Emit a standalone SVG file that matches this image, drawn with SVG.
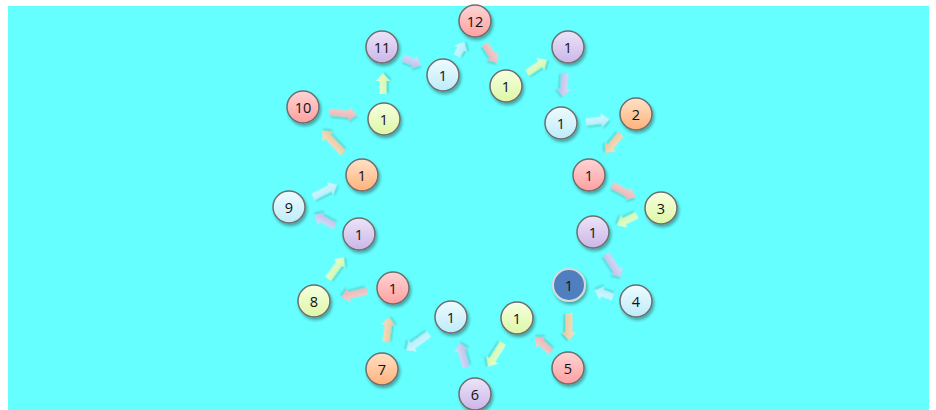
<svg xmlns="http://www.w3.org/2000/svg" width="936" height="410" viewBox="0 0 936 410">
<defs>
<linearGradient id="gR" x1="0" y1="0" x2="0" y2="1"><stop offset="0" stop-color="#FFD4D4"/><stop offset="1" stop-color="#FFA0A0"/></linearGradient>
<linearGradient id="gP" x1="0" y1="0" x2="0" y2="1"><stop offset="0" stop-color="#ECE4F8"/><stop offset="1" stop-color="#CBB6E8"/></linearGradient>
<linearGradient id="gB" x1="0" y1="0" x2="0" y2="1"><stop offset="0" stop-color="#EEFBFF"/><stop offset="1" stop-color="#BDEBFA"/></linearGradient>
<linearGradient id="gG" x1="0" y1="0" x2="0" y2="1"><stop offset="0" stop-color="#F7FFE0"/><stop offset="1" stop-color="#DDF7A6"/></linearGradient>
<linearGradient id="gO" x1="0" y1="0" x2="0" y2="1"><stop offset="0" stop-color="#FFE2C8"/><stop offset="1" stop-color="#FFB27A"/></linearGradient>
<linearGradient id="aR" x1="0" y1="0" x2="0" y2="1"><stop offset="0" stop-color="#FFD0D0"/><stop offset="1" stop-color="#FFA8A8"/></linearGradient>
<linearGradient id="aP" x1="0" y1="0" x2="0" y2="1"><stop offset="0" stop-color="#E6DCF6"/><stop offset="1" stop-color="#C9B6EA"/></linearGradient>
<linearGradient id="aB" x1="0" y1="0" x2="0" y2="1"><stop offset="0" stop-color="#E4F8FF"/><stop offset="1" stop-color="#B8EAFB"/></linearGradient>
<linearGradient id="aG" x1="0" y1="0" x2="0" y2="1"><stop offset="0" stop-color="#F4FFD2"/><stop offset="1" stop-color="#DAF7A0"/></linearGradient>
<linearGradient id="aO" x1="0" y1="0" x2="0" y2="1"><stop offset="0" stop-color="#FFE0C4"/><stop offset="1" stop-color="#FFBE8A"/></linearGradient>
<filter id="sh" x="-40%" y="-40%" width="180%" height="180%"><feDropShadow dx="1.5" dy="2.5" stdDeviation="1.8" flood-color="#000" flood-opacity="0.35"/></filter>
<filter id="ash" x="-40%" y="-60%" width="180%" height="220%"><feDropShadow dx="1" dy="2" stdDeviation="1.2" flood-color="#000" flood-opacity="0.2"/></filter>
</defs>
<style>
.n circle{stroke:#6E6E6E;stroke-width:1.5;filter:url(#sh)}
.n text{font-family:"Open Sans","Liberation Sans",Arial,sans-serif;font-size:14.5px;fill:#111;text-anchor:middle;dominant-baseline:central}
.r circle{fill:url(#gR)} .p circle{fill:url(#gP)} .b circle{fill:url(#gB)} .g circle{fill:url(#gG)} .o circle{fill:url(#gO)}
.d circle{fill:#4F7FBE;stroke:#D9D9D9;stroke-width:2}
.arrows path{filter:url(#ash);opacity:0.9}
.ar{fill:url(#aR)} .ap{fill:url(#aP)} .ab{fill:url(#aB)} .ag{fill:url(#aG)} .ao{fill:url(#aO)}
</style>
<rect x="0" y="0" width="936" height="410" fill="#FFFFFF"/>
<rect x="8" y="6" width="921" height="404" fill="#66FFFF"/>
<g id="connectors" class="arrows">
<path class="ap" transform="translate(403,58) rotate(21)" d="M0,-3.5H11.5V-7L19.5,0L11.5,7V3.5H0Z"/>
<path class="ab" transform="translate(457,56) rotate(-63)" d="M0,-3.5H8V-7L16,0L8,7V3.5H0Z"/>
<path class="ar" transform="translate(485,44) rotate(57)" d="M0,-3.5H14.5V-7L22.5,0L14.5,7V3.5H0Z"/>
<path class="ag" transform="translate(527,73) rotate(-34)" d="M0,-3.5H16V-7L24,0L16,7V3.5H0Z"/>
<path class="ap" transform="translate(565,73) rotate(94)" d="M0,-3.5H16V-7L24,0L16,7V3.5H0Z"/>
<path class="ab" transform="translate(586,122) rotate(-6.6)" d="M0,-3.5H15.5V-7L23.5,0L15.5,7V3.5H0Z"/>
<path class="ao" transform="translate(621,134) rotate(129)" d="M0,-3.5H16.5V-7L24.5,0L16.5,7V3.5H0Z"/>
<path class="ar" transform="translate(612,185) rotate(28)" d="M0,-3.5H18.5V-7L26.5,0L18.5,7V3.5H0Z"/>
<path class="ag" transform="translate(637,215) rotate(153)" d="M0,-3.5H14.5V-7L22.5,0L14.5,7V3.5H0Z"/>
<path class="ap" transform="translate(606,254) rotate(57)" d="M0,-3.5H19.5V-7L27.5,0L19.5,7V3.5H0Z"/>
<path class="ab" transform="translate(613,297) rotate(200)" d="M0,-3.5H11.5V-7L19.5,0L11.5,7V3.5H0Z"/>
<path class="ao" transform="translate(569,313) rotate(90)" d="M0,-3.5H19.5V-7L27.5,0L19.5,7V3.5H0Z"/>
<path class="ar" transform="translate(551,352) rotate(222.6)" d="M0,-3.5H14V-7L22,0L14,7V3.5H0Z"/>
<path class="ag" transform="translate(503,343) rotate(122)" d="M0,-3.5H20V-7L28,0L20,7V3.5H0Z"/>
<path class="ap" transform="translate(466,367) rotate(253.7)" d="M0,-3.5H17V-7L25,0L17,7V3.5H0Z"/>
<path class="ab" transform="translate(429,334) rotate(144)" d="M0,-3.5H20V-7L28,0L20,7V3.5H0Z"/>
<path class="ao" transform="translate(386,342) rotate(-83)" d="M0,-3.5H17V-7L25,0L17,7V3.5H0Z"/>
<path class="ar" transform="translate(367,291) rotate(166)" d="M0,-3.5H18.5V-7L26.5,0L18.5,7V3.5H0Z"/>
<path class="ag" transform="translate(328,279) rotate(-54)" d="M0,-3.5H19V-7L27,0L19,7V3.5H0Z"/>
<path class="ap" transform="translate(335,226) rotate(207.6)" d="M0,-3.5H15.5V-7L23.5,0L15.5,7V3.5H0Z"/>
<path class="ab" transform="translate(313,197) rotate(-27)" d="M0,-3.5H19V-7L27,0L19,7V3.5H0Z"/>
<path class="ao" transform="translate(343,153) rotate(227)" d="M0,-3.5H22.5V-7L30.5,0L22.5,7V3.5H0Z"/>
<path class="ar" transform="translate(330,112) rotate(5.8)" d="M0,-3.5H19V-7L27,0L19,7V3.5H0Z"/>
<path class="ag" transform="translate(383,94) rotate(-90)" d="M0,-3.5H13V-7L21,0L13,7V3.5H0Z"/>
</g>
<g id="n12" class="n r"><circle cx="475" cy="21" r="16"/><text x="475" y="21">12</text></g>
<g id="n11" class="n p"><circle cx="382" cy="47" r="16"/><text x="382" y="47">11</text></g>
<g id="n1a" class="n b"><circle cx="443" cy="75" r="16"/><text x="443" y="75">1</text></g>
<g id="n1b" class="n g"><circle cx="506" cy="86" r="16"/><text x="506" y="86">1</text></g>
<g id="n1c" class="n p"><circle cx="568" cy="47" r="16"/><text x="568" y="47">1</text></g>
<g id="n1d" class="n b"><circle cx="561" cy="123" r="16"/><text x="561" y="123">1</text></g>
<g id="n2" class="n o"><circle cx="636" cy="114" r="16"/><text x="636" y="114">2</text></g>
<g id="n1e" class="n r"><circle cx="589" cy="175" r="16"/><text x="589" y="175">1</text></g>
<g id="n3" class="n g"><circle cx="661" cy="208" r="16"/><text x="661" y="208">3</text></g>
<g id="n1f" class="n p"><circle cx="593" cy="232" r="16"/><text x="593" y="232">1</text></g>
<g id="n1g" class="n d"><circle cx="569" cy="285" r="16"/><text x="569" y="285">1</text></g>
<g id="n4" class="n b"><circle cx="636" cy="301" r="16"/><text x="636" y="301">4</text></g>
<g id="n5" class="n r"><circle cx="568" cy="368" r="16"/><text x="568" y="368">5</text></g>
<g id="n1h" class="n g"><circle cx="517" cy="318" r="16"/><text x="517" y="318">1</text></g>
<g id="n6" class="n p"><circle cx="475" cy="394" r="16"/><text x="475" y="394">6</text></g>
<g id="n1i" class="n b"><circle cx="451" cy="317" r="16"/><text x="451" y="317">1</text></g>
<g id="n7" class="n o"><circle cx="382" cy="369" r="16"/><text x="382" y="369">7</text></g>
<g id="n1j" class="n r"><circle cx="393" cy="288" r="16"/><text x="393" y="288">1</text></g>
<g id="n8" class="n g"><circle cx="314" cy="301" r="16"/><text x="314" y="301">8</text></g>
<g id="n1k" class="n p"><circle cx="359" cy="234" r="16"/><text x="359" y="234">1</text></g>
<g id="n9" class="n b"><circle cx="289" cy="207" r="16"/><text x="289" y="207">9</text></g>
<g id="n1l" class="n o"><circle cx="362" cy="175" r="16"/><text x="362" y="175">1</text></g>
<g id="n10" class="n r"><circle cx="303" cy="107" r="16"/><text x="303" y="107">10</text></g>
<g id="n1m" class="n g"><circle cx="384" cy="119" r="16"/><text x="384" y="119">1</text></g>
</svg>
